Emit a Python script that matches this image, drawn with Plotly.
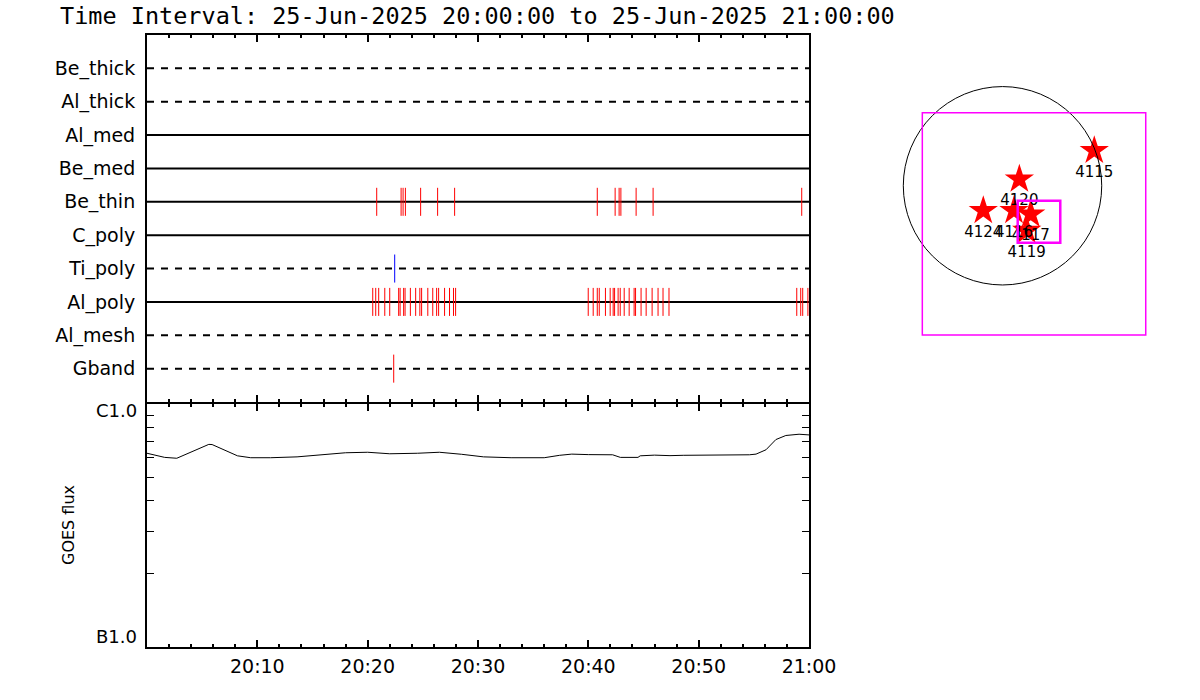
import pandas as pd
import plotly.graph_objects as go

# ---------------- data ----------------
BASE = "2025-06-25 20:00:00"
title_text = "Time Interval: 25-Jun-2025 20:00:00 to 25-Jun-2025 21:00:00"

filters = ["Be_thick", "Al_thick", "Al_med", "Be_med", "Be_thin",
           "C_poly", "Ti_poly", "Al_poly", "Al_mesh", "Gband"]
filter_dashed = [True, True, False, False, False, False, True, False, True, True]

# event times, minutes after 20:00
be_thin_events = [20.82, 23.03, 23.21, 23.42, 24.80, 26.34, 27.88,
                  40.81, 42.43, 42.79, 42.95, 44.33, 45.87, 59.34]
ti_poly_events = [22.45]
al_poly_events = [20.46, 20.73, 21.00, 21.55, 22.00, 22.81, 22.94, 23.26, 23.39,
                  23.87, 24.35, 24.73, 24.89, 25.45, 25.90, 26.25, 26.43, 26.97,
                  27.42, 27.78, 27.97,
                  39.99, 40.44, 40.81, 40.99, 41.55, 41.98, 42.25, 42.38, 42.70,
                  42.89, 43.25, 43.70, 44.15, 44.28, 44.78, 45.24, 45.78, 46.32,
                  46.77, 47.31,
                  58.89, 59.25, 59.43, 59.90]
gband_events = [22.36]

# GOES flux (W/m^2), minutes after 20:00
goes_min = [0, 1.6, 2.7, 4.2, 5.6, 5.9, 7.1, 8.2, 9.4, 11.2, 13.6, 15.4, 16.6,
            18, 20, 22, 24.5, 26.5, 28.5, 30.5, 33, 36, 37.4, 38.5, 40, 42.2,
            42.9, 44.5, 44.7, 46, 47.4, 48.6, 54.6, 55.2, 56.1, 57.0, 57.9,
            59.1, 60]
goes_flux = [6.27e-7, 6.03e-7, 5.98e-7, 6.42e-7, 6.82e-7, 6.81e-7, 6.42e-7,
             6.12e-7, 6.01e-7, 6.01e-7, 6.06e-7, 6.16e-7, 6.22e-7,
             6.30e-7, 6.33e-7, 6.24e-7, 6.27e-7, 6.33e-7, 6.21e-7, 6.06e-7,
             6.01e-7, 6.01e-7, 6.15e-7, 6.22e-7, 6.19e-7, 6.18e-7,
             6.03e-7, 6.03e-7, 6.12e-7, 6.16e-7, 6.13e-7, 6.15e-7, 6.18e-7,
             6.22e-7, 6.48e-7, 7.14e-7, 7.42e-7, 7.51e-7, 7.46e-7]

time_tick_labels = ["20:10", "20:20", "20:30", "20:40", "20:50", "21:00"]
time_tick_min = [10, 20, 30, 40, 50, 60]
flux_tick_vals = [1e-7, 2e-7, 3e-7, 4e-7, 5e-7, 6e-7, 7e-7, 8e-7, 9e-7, 1e-6]
flux_tick_text = ["B1.0", "C1.0"]

# solar map (arcsec)
ar_numbers = ["4115", "4120", "4124", "4116", "4117", "4119"]
ar_x = [888, 163, -186, 111, 273, 234]
ar_y = [340, 63, -241, -241, -276, -434]
disk_radius = 960
fov_box = [-776, 1386, -1444, 707]      # x0, x1, y0, y1
small_box = [147, 559, -551, -144]

# ---------------- helpers ----------------
base = pd.Timestamp(BASE)


def tm(m):
    return base + pd.to_timedelta(m, unit="m")


FONT = "DejaVu Sans"
MONO = "DejaVu Sans Mono"
W, H = 1200, 700
ROWS = {f: i + 1 for i, f in enumerate(filters)}

fig = go.Figure()

# horizontal filter lines
for f, dashed in zip(filters, filter_dashed):
    fig.add_trace(go.Scatter(
        x=[tm(0), tm(60)], y=[ROWS[f], ROWS[f]], mode="lines",
        line=dict(color="black", width=2, dash="7px,7px" if dashed else "solid"),
        xaxis="x", yaxis="y", showlegend=False, hoverinfo="skip"))


def event_trace(events, row, color):
    xs, ys = [], []
    for e in events:
        xs += [tm(e), tm(e), None]
        ys += [ROWS[row] - 0.42, ROWS[row] + 0.42, None]
    return go.Scatter(x=xs, y=ys, mode="lines", line=dict(color=color, width=1),
                      xaxis="x", yaxis="y", showlegend=False, hoverinfo="skip")


fig.add_trace(event_trace(be_thin_events, "Be_thin", "#ff0000"))
fig.add_trace(event_trace(ti_poly_events, "Ti_poly", "#0000ff"))
fig.add_trace(event_trace(al_poly_events, "Al_poly", "#ff0000"))
fig.add_trace(event_trace(gband_events, "Gband", "#ff0000"))

# GOES curve
fig.add_trace(go.Scatter(
    x=[tm(m) for m in goes_min], y=goes_flux, mode="lines",
    line=dict(color="black", width=1), xaxis="x2", yaxis="y2",
    showlegend=False, hoverinfo="skip"))

# map stars
fig.add_trace(go.Scatter(
    x=ar_x, y=ar_y, mode="markers+text", text=ar_numbers,
    textposition="bottom center",
    textfont=dict(family=FONT, size=15, color="black"),
    marker=dict(symbol="star", size=22, color="#ff0000", line=dict(width=0)),
    xaxis="x3", yaxis="y3", showlegend=False, hoverinfo="skip"))

# ---------------- layout ----------------
x_l, x_r = 147 / W, 809 / W
top_dom = [(H - 402) / H, (H - 35) / H]
bot_dom = [(H - 647) / H, (H - 404) / H]

common_x = dict(
    type="date", range=[tm(0), tm(60)], showline=True, linewidth=2,
    linecolor="black", mirror="allticks", ticks="inside", ticklen=7,
    tickwidth=2, tickcolor="black", showgrid=False, zeroline=False,
    automargin=False,
    minor=dict(dtick=120000, tick0=tm(0), ticks="inside", ticklen=3,
               tickwidth=1.5, tickcolor="black", showgrid=False),
)

fig.update_layout(
    width=W, height=H, autosize=False, margin=dict(l=0, r=0, t=0, b=0, pad=0),
    paper_bgcolor="white", plot_bgcolor="white",
    font=dict(family=FONT, color="black"),
    xaxis=dict(common_x, domain=[x_l, x_r], anchor="y",
               tickmode="array", tickvals=[tm(m) for m in time_tick_min],
               showticklabels=False),
    yaxis=dict(domain=top_dom, anchor="x", range=[11, 0], showline=True,
               linewidth=2, linecolor="black", mirror=True, ticks="",
               tickmode="array", tickvals=[ROWS[f] for f in filters],
               ticktext=filters, tickfont=dict(size=19, family=FONT),
               showgrid=False, zeroline=False, ticklabelstandoff=6,
               automargin=False),
    xaxis2=dict(common_x, domain=[x_l, x_r], anchor="y2",
                tickmode="array", tickvals=[tm(m) for m in time_tick_min],
                ticktext=time_tick_labels, tickfont=dict(size=19, family=FONT),
                ticklabelstandoff=1),
    yaxis2=dict(domain=bot_dom, anchor="x2", type="log", range=[-7, -6],
                showline=True, linewidth=2, linecolor="black", mirror="allticks",
                ticks="inside", ticklen=7, tickwidth=1, tickcolor="black",
                tickmode="array", tickvals=flux_tick_vals,
                showticklabels=False, showgrid=False, zeroline=False,
                automargin=False),
    xaxis3=dict(domain=[900 / W, 1160 / W], anchor="y3", range=[-992, 1524],
                visible=False, automargin=False),
    yaxis3=dict(domain=[(H - 345) / H, (H - 75) / H], anchor="x3",
                range=[-1541, 1072], visible=False, automargin=False),
    shapes=[
        dict(type="circle", xref="x3", yref="y3", x0=-disk_radius, x1=disk_radius,
             y0=-disk_radius, y1=disk_radius, line=dict(color="black", width=1)),
        dict(type="rect", xref="x3", yref="y3", x0=fov_box[0], x1=fov_box[1],
             y0=fov_box[2], y1=fov_box[3], line=dict(color="#ff00ff", width=1.5)),
        dict(type="rect", xref="x3", yref="y3", x0=small_box[0], x1=small_box[1],
             y0=small_box[2], y1=small_box[3], line=dict(color="#ff00ff", width=2.5)),
    ],
    annotations=[
        dict(text=title_text, xref="paper", yref="paper", x=58 / W,
             y=(H - 16) / H, xanchor="left", yanchor="middle", showarrow=False,
             font=dict(size=23.5, family=MONO)),
        dict(text="GOES flux", xref="paper", yref="paper", x=68 / W,
             y=(H - 525) / H, xanchor="center", yanchor="middle", showarrow=False,
             textangle=-90, font=dict(size=16, family=FONT)),
        dict(text=flux_tick_text[1], xref="paper", yref="y2", x=139 / W, y=-6,
             xanchor="right", yanchor="middle", yshift=-6, showarrow=False,
             font=dict(size=18, family=FONT)),
        dict(text=flux_tick_text[0], xref="paper", yref="y2", x=139 / W, y=-7,
             xanchor="right", yanchor="middle", yshift=11, showarrow=False,
             font=dict(size=18, family=FONT)),
    ],
)

fig.write_html("out.html", config={"responsive": False, "displayModeBar": False},
               post_script="document.body.style.margin='0px';")
